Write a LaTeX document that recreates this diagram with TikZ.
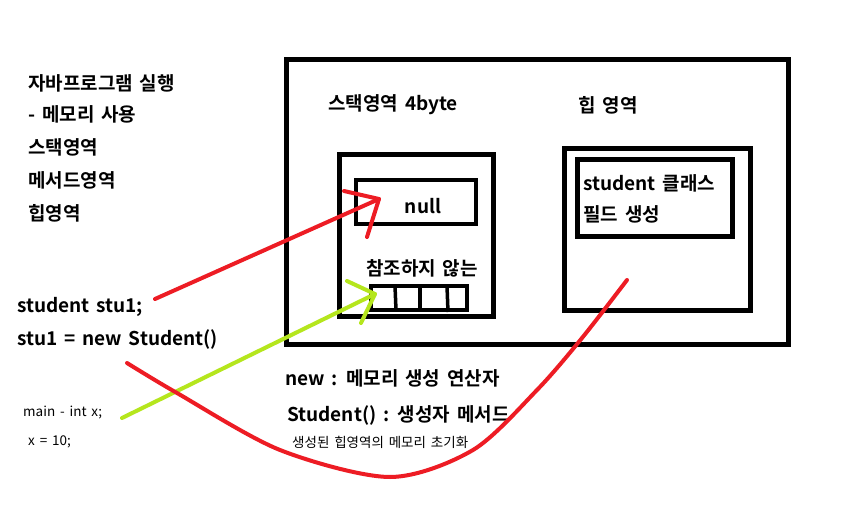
\documentclass[tikz,border=0pt]{standalone}
\usepackage{fontspec}
\setmainfont{Noto Sans CJK KR}[BoldFont={Noto Sans CJK KR Bold}, WordSpace=1.6]
\definecolor{penred}{HTML}{ED1C24}
\definecolor{penlime}{HTML}{B5E61D}
\tikzset{
  memo/.style={anchor=west, inner sep=0pt, font=\bfseries\fontsize{19}{22}\selectfont},
  smallmemo/.style={anchor=west, inner sep=0pt, font=\fontsize{13.5}{16}\selectfont},
  wall/.style={line width=5pt},
  thinwall/.style={line width=4pt},
  redpen/.style={penred, line width=4pt, line cap=round, line join=round},
  limepen/.style={penlime, line width=4pt, line cap=round, line join=round}
}
\begin{document}
\begin{tikzpicture}[x=1pt, y=-1pt]
  \useasboundingbox[fill=white] (0,0) rectangle (862,527);
  %% left notes
  \node[memo] (run)    at (28,83)  {자바프로그램 실행};
  \node[memo] (usemem) at (28,114) {- 메모리 사용};
  \node[memo] (stackn) at (28,147) {스택영역};
  \node[memo] (methn)  at (28,180) {메서드영역};
  \node[memo] (heapn)  at (28,213) {힙영역};
  \node[memo] (decl)   at (17,307) {student stu1;};
  \node[memo] (assign) at (17,340) {stu1 = new Student()};
  \node[smallmemo] (mainx) at (23,413) {main - int x;};
  \node[smallmemo] (xten)  at (28,442) {x = 10;};
  %% memory boxes
  \draw[wall] (286.5,59.5) rectangle (788,344);
  \draw[wall] (339,154) rectangle (493,316);
  \draw[thinwall] (356,180) rectangle (476,224);
  \draw[thinwall] (371,286) rectangle (467,310);
  \draw[line width=3.5pt] (395,286) -- (396,310);
  \draw[line width=3.5pt] (420,286) -- (420,310);
  \draw[line width=3.5pt] (447,286) -- (448,312);
  \draw[wall] (564,148) rectangle (750,310);
  \draw[wall] (577,159) rectangle (732,236);
  \node[memo] (stackt) at (328,105) {스택영역 4byte};
  \node[memo] (heapt)  at (578,105) {힙 영역};
  \node[memo, anchor=center] (nullv) at (423,206) {null};
  \node[memo, anchor=center] (noref) at (422,268) {참조하지 않는};
  \node[memo] (field1) at (583,183) {student 클래스};
  \node[memo] (field2) at (583,214) {필드 생성};
  %% notes below
  \node[memo] (newop)  at (285,378) {new : 메모리 생성 연산자};
  \node[memo] (ctor)   at (287,415) {Student() : 생성자 메서드};
  \node[smallmemo] (init) at (292,442) {생성된 힙영역의 메모리 초기화};
  %% arrows
  \coordinate (declEnd) at (155,299);
  \coordinate (nullTip) at (379,199);
  \coordinate (nullBarbA) at (344,191);
  \coordinate (nullBarbB) at (367,237);
  \draw[redpen] (declEnd) -- (nullTip);
  \draw[redpen] (nullBarbA) -- (nullTip) -- (nullBarbB);
  \coordinate (mainEnd) at (122,418);
  \coordinate (cellTip) at (375,294);
  \coordinate (cellBarbA) at (347,281);
  \coordinate (cellBarbB) at (361,323);
  \draw[limepen] (mainEnd) -- (cellTip);
  \draw[limepen] (cellBarbA) -- (cellTip) -- (cellBarbB);
  \coordinate (assignEnd) at (127,363);
  \coordinate (heapEnd) at (627,280);
  \draw[redpen] plot[smooth, tension=0.5] coordinates {(assignEnd) (177,393) (280,450) (390,477) (473,450) (537,390) (582,338) (heapEnd)};
\end{tikzpicture}
\end{document}
